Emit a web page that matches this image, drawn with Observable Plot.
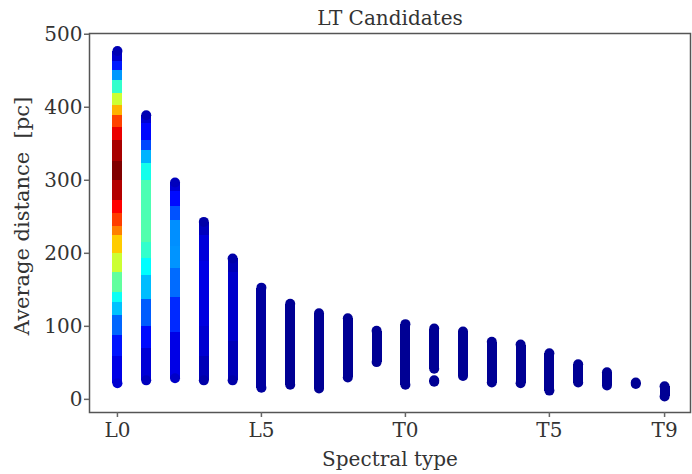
<!DOCTYPE html>
<html><head><meta charset="utf-8">
<script src="https://cdn.jsdelivr.net/npm/d3@7"></script>
<script src="https://cdn.jsdelivr.net/npm/@observablehq/plot@0.6"></script>
<style>body{margin:0;background:#fff;overflow:hidden}</style>
</head><body><div id="chart"></div>
<script>
// Spectral types (x categories)
const types = ["L0","L1","L2","L3","L4","L5","L6","L7","L8","L9",
               "T0","T1","T2","T3","T4","T5","T6","T7","T8","T9"];
// Range of average distance per type [pc]
const distMin = [22, 26, 29, 26, 26, 16, 20, 15, 30, 51, 20, 25, 32, 23, 22, 12, 23, 19, 21, 4];
const distMax = [477, 389, 297, 243, 193, 153, 131, 118, 111, 94, 103, 97, 93, 79, 75, 63, 48, 37, 23, 18];
// Point density (0..1) for columns without a profile
const baseDensity = [0.05, 0.05, 0.05, 0.05, 0.05, 0.03, 0.02, 0.02, 0.02, 0.02,
                     0.02, 0.02, 0.02, 0.02, 0.02, 0.02, 0.02, 0.02, 0.02, 0.02];
// Density profiles read along the crowded columns: [distance, density]
const profileL0 = [[477,0.05],[464,0.1],[451,0.2],[437,0.35],[419,0.5],[403,0.65],[389,0.75],
  [373,0.87],[355,0.92],[327,1.0],[300,1.0],[273,0.9],[255,0.85],[238,0.78],[225,0.72],
  [201,0.63],[174,0.52],[147,0.42],[133,0.35],[115,0.28],[88,0.17],[60,0.12],[22,0.08]];
const profileL1 = [[389,0.05],[378,0.12],[355,0.14],[341,0.25],[323,0.35],[300,0.44],[245,0.46],
  [215,0.45],[193,0.4],[170,0.35],[138,0.27],[101,0.16],[70,0.11],[26,0.06]];
const profileL2 = [[297,0.06],[285,0.11],[265,0.16],[245,0.25],[210,0.28],[180,0.26],[140,0.2],
  [92,0.13],[29,0.07]];
const profileL3 = [[243,0.04],[225,0.08],[190,0.1],[150,0.1],[100,0.09],[60,0.07],[26,0.04]];
const profileL4 = [[193,0.04],[175,0.07],[130,0.08],[80,0.07],[26,0.04]];
const profiles = {L0: profileL0, L1: profileL1, L2: profileL2, L3: profileL3, L4: profileL4};
// Columns split into separate groups of points: [lo, hi]
const piecesT1 = [[24, 26], [42, 97]];
const pieces = {T1: piecesT1};

const yTicks = [0, 100, 200, 300, 400, 500];
const xTickTypes = ["L0", "L5", "T0", "T5", "T9"];
const title = "LT Candidates";
const xLabel = "Spectral type";
const yLabel = "Average distance  [pc]";

// jet colormap
const clip = v => Math.max(0, Math.min(1, v));
const jet = t => `rgb(${Math.round(255*clip(1.5-Math.abs(4*t-3)))},${Math.round(255*clip(1.5-Math.abs(4*t-2)))},${Math.round(255*clip(1.5-Math.abs(4*t-1)))})`;

const segments = [];
const ends = [];
types.forEach((tp, i) => {
  const prof = profiles[tp];
  if (prof) {
    for (let k = 0; k < prof.length - 1; k++) {
      segments.push({x: i, y1: prof[k][0], y2: prof[k+1][0], d: (prof[k][1] + prof[k+1][1]) / 2});
    }
    ends.push({x: i, y: prof[0][0], d: prof[0][1]});
    ends.push({x: i, y: prof[prof.length-1][0], d: prof[prof.length-1][1]});
  } else {
    const ps = pieces[tp] || [[distMin[i], distMax[i]]];
    ps.forEach(([lo, hi]) => {
      segments.push({x: i, y1: lo, y2: hi, d: baseDensity[i]});
      ends.push({x: i, y: lo, d: baseDensity[i]});
      ends.push({x: i, y: hi, d: baseDensity[i]});
    });
  }
});

const fs = 20;
const chart = Plot.plot({
  width: 692, height: 474,
  marginLeft: 89, marginRight: 2, marginTop: 33, marginBottom: 62,
  style: {fontFamily: "'DejaVu Serif'", fontSize: fs + "px", color: "#333", background: "#fff"},
  x: {type: "linear", domain: [-0.97, 19.9]},
  y: {type: "linear", domain: [-18, 501]},
  color: {type: "linear", domain: [0, 1], interpolate: jet},
  marks: [
    Plot.link(segments, {x1: "x", x2: "x", y1: "y1", y2: "y2", stroke: "d", strokeWidth: 10, strokeLinecap: "butt", shapeRendering: "crispEdges"}),
    Plot.dot(ends, {x: "x", y: "y", r: 5, fill: "d", stroke: null}),
    Plot.frame({stroke: "#555", strokeWidth: 1.5}),
    Plot.axisY({ticks: yTicks, tickSize: 5, tickPadding: 2, label: null, stroke: "#666", fill: "#333", strokeWidth: 1.5, fontSize: fs}),
    Plot.axisX({ticks: xTickTypes.map(t => types.indexOf(t)), tickFormat: i => types[i], tickSize: 5, tickPadding: 5, label: null, stroke: "#666", fill: "#333", strokeWidth: 1.5, fontSize: fs}),
    Plot.text([title], {frameAnchor: "top", dy: -15, lineAnchor: "middle", fill: "#333", fontSize: fs}),
    Plot.text([xLabel], {frameAnchor: "bottom", dy: 47, lineAnchor: "middle", fill: "#333", fontSize: fs}),
    Plot.text([yLabel], {frameAnchor: "left", dx: -67, dy: -7, rotate: -90, textAnchor: "middle", lineAnchor: "middle", fill: "#333", fontSize: 21})
  ]
});
document.getElementById("chart").appendChild(chart);
</script>
</body></html>
